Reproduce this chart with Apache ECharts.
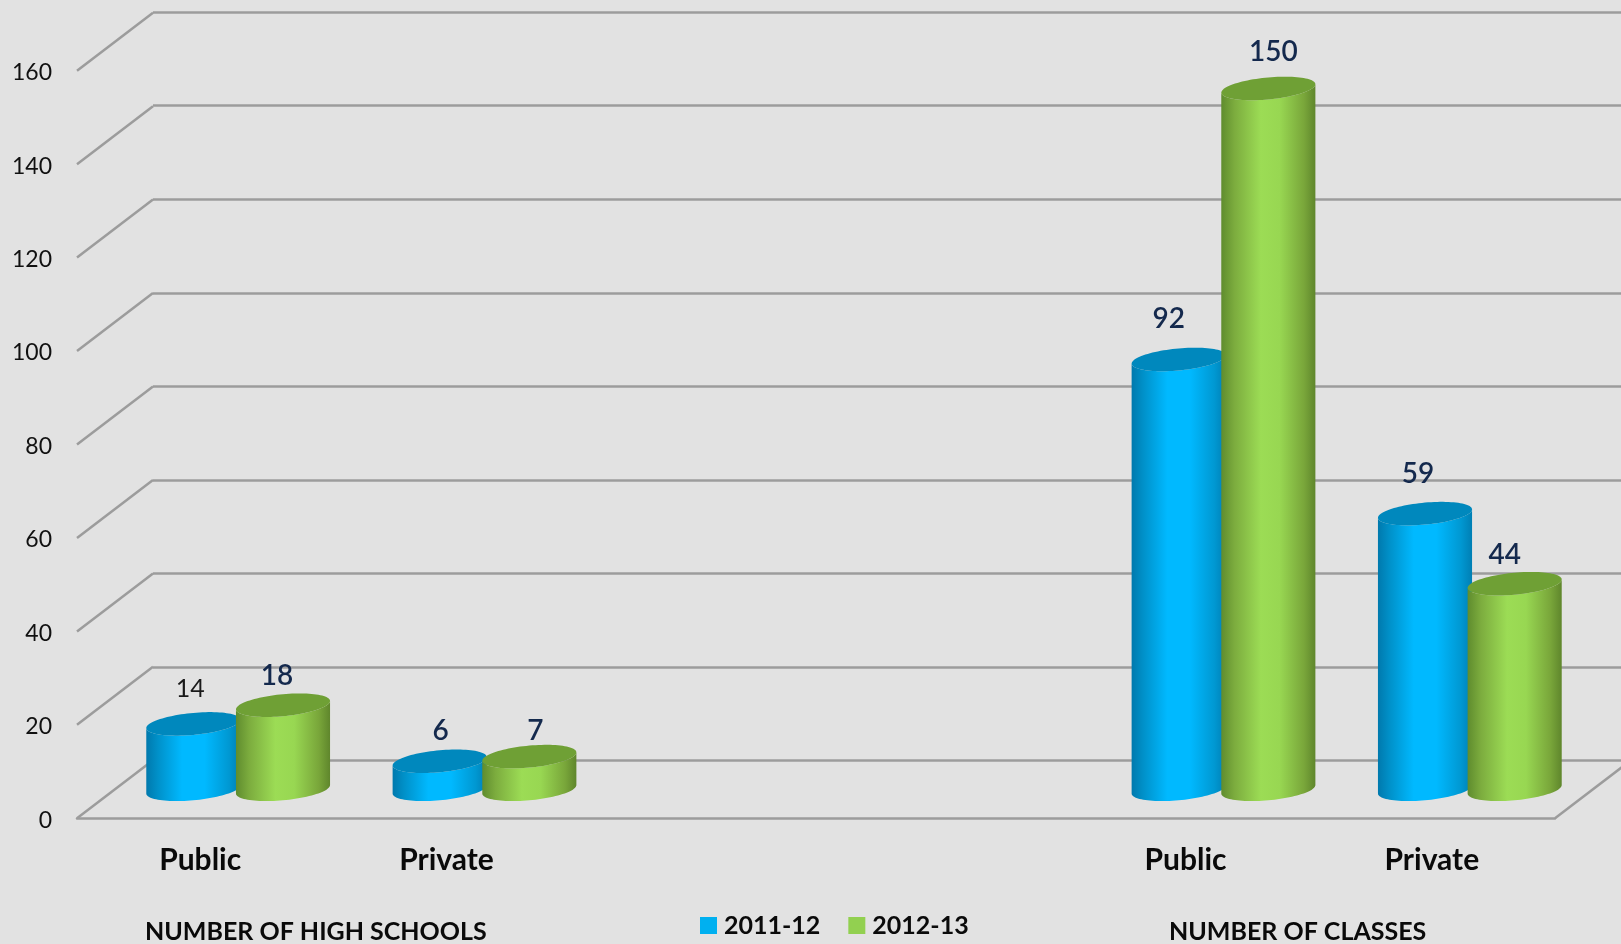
<!DOCTYPE html>
<html>
<head>
<meta charset="utf-8">
<style>html,body{margin:0;padding:0;background:#e2e2e2}#chart{width:1621px;height:944px}</style>
<script src="https://cdn.jsdelivr.net/npm/echarts@6/dist/echarts.min.js"></script>
</head>
<body>
<div id="chart"></div>
<script>
// School counts, two academic years, grouped under two headings
const categories = ['Public', 'Private', '', '', 'Public', 'Private'];
const values2011 = [14, 6, null, null, 92, 59];
const values2012 = [18, 7, null, null, 150, 44];
const valueTicks = [0, 20, 40, 60, 80, 100, 120, 140, 160];
const groupHeadings = ['NUMBER OF HIGH SCHOOLS', 'NUMBER OF CLASSES'];

// Label placement relative to the cylinder's top centre
const nudge2011 = [[-3, -35], [1, -30], null, null, [-10, -40], [-7, -40]];
const nudge2012 = [[-6, -29], [6, -26], null, null, [5, -36], [-10, -29]];

// Floor depth of the pseudo-3D box, in pixels
const DEPTH_X = 76, DEPTH_Y = -58;
const FONT = 'Lato';
const GRID_COLOR = '#9c9c9c';
const GRID_WIDTH = 2.5;

const palettes = {
  blue: { stops: [[0, '#0079ad'], [0.12, '#0090c8'], [0.38, '#00b9ff'], [0.62, '#00b9ff'], [0.88, '#0098d2'], [1, '#007fb4']], cap: '#0088bd' },
  green: { stops: [[0, '#5f8c2e'], [0.14, '#7cac3e'], [0.42, '#9cdc55'], [0.62, '#98d752'], [0.88, '#79a63a'], [1, '#5f862c']], cap: '#6fa035' }
};

function cylinderRenderer(palette, nudges, side) {
  return function (params, api) {
    const idx = api.value(0);
    const val = api.value(1);
    const band = api.size([1, 0])[0];
    const base = api.coord([idx, 0]);
    const top = api.coord([idx, val]);
    const a = band * 0.191;
    const b = 11, s = 4.2;
    const cx = base[0] + DEPTH_X / 2 + side * band * 0.182;
    const yBase = base[1] + DEPTH_Y / 2;
    const yTop = top[1] + DEPTH_Y / 2;
    const ring = (cy, from, to, n) => {
      const pts = [];
      for (let i = 0; i <= n; i++) {
        const t = from + (to - from) * i / n;
        pts.push([cx + a * Math.cos(t), cy + b * Math.sin(t) - s * Math.cos(t)]);
      }
      return pts;
    };
    // Side wall: down the right edge, along the near half of the base, up the left edge
    const body = [].concat(
      ring(yBase, 0, Math.PI, 48),
      ring(yTop, Math.PI, 0, 48)
    );
    const cap = ring(yTop, 0, Math.PI * 2, 96);
    const nudge = nudges[idx];
    const isSmall = val === 14;
    return {
      type: 'group',
      children: [
        {
          type: 'polygon',
          shape: { points: body },
          style: {
            fill: new echarts.graphic.LinearGradient(0, 0, 1, 0,
              palette.stops.map(p => ({ offset: p[0], color: p[1] })))
          }
        },
        { type: 'polygon', shape: { points: cap }, style: { fill: palette.cap } },
        {
          type: 'text',
          x: cx + nudge[0],
          y: yTop + nudge[1],
          style: {
            text: String(val),
            fontFamily: FONT,
            fontSize: isSmall ? 25 : 28,
            fontWeight: isSmall ? 400 : 600,
            fill: isSmall ? '#1a1a1a' : '#14294d',
            align: 'center',
            verticalAlign: 'middle'
          }
        }
      ]
    };
  };
}

function dataRows(values) {
  return values.map((v, i) => [i, v]).filter(r => r[1] !== null);
}

const chart = echarts.init(document.getElementById('chart'), null, { renderer: 'canvas' });

chart.setOption({
  animation: false,
  backgroundColor: '#e2e2e2',
  grid: [
    { left: 77, width: 1478, top: 70.7, height: 747.6 },
    { left: 153, right: 0, top: 12, height: 748.7 }
  ],
  xAxis: [
    {
      type: 'category',
      gridIndex: 0,
      data: categories,
      axisTick: { show: false },
      axisLine: { show: true, lineStyle: { color: GRID_COLOR, width: GRID_WIDTH } },
      axisLabel: { color: '#0a0a0a', fontFamily: FONT, fontWeight: 700, fontSize: 30, margin: 27, interval: 0 }
    },
    { type: 'value', gridIndex: 1, min: 0, max: 1, show: false }
  ],
  yAxis: [
    {
      type: 'value',
      gridIndex: 0,
      min: 0,
      max: 160,
      interval: 20,
      axisTick: { show: false },
      axisLine: { show: false },
      splitLine: { show: false },
      axisLabel: {
        margin: 25,
        formatter: '{v|{value}}',
        rich: { v: { color: '#111', fontFamily: FONT, fontSize: 23, padding: [4, 0, 0, 0] } }
      }
    },
    {
      type: 'value',
      gridIndex: 1,
      min: 0,
      max: 160,
      interval: 20,
      axisTick: { show: false },
      axisLine: { show: false },
      axisLabel: { show: false },
      splitLine: { show: true, lineStyle: { color: GRID_COLOR, width: GRID_WIDTH } }
    }
  ],
  legend: {
    data: ['2011-12', '2012-13'],
    left: 700,
    top: 913,
    padding: 0,
    itemWidth: 17,
    itemHeight: 17,
    itemGap: 28,
    icon: 'rect',
    textStyle: { color: '#0a0a0a', fontFamily: FONT, fontWeight: 700, fontSize: 25, padding: [0, 0, 0, 2] }
  },
  graphic: [
    {
      type: 'text', left: 145, top: 919,
      style: { text: groupHeadings[0], fontFamily: FONT, fontWeight: 700, fontSize: 25, fill: '#0a0a0a' }
    },
    {
      type: 'text', left: 1169, top: 919,
      style: { text: groupHeadings[1], fontFamily: FONT, fontWeight: 700, fontSize: 25, fill: '#0a0a0a' }
    }
  ],
  series: [
    {
      // Slanted floor and side edges joining the front plane to the back wall
      type: 'custom',
      name: 'edges',
      xAxisIndex: 0,
      yAxisIndex: 0,
      silent: true,
      clip: false,
      z: 1,
      data: valueTicks.map(v => [0, v]),
      renderItem(params, api) {
        const p = api.coord([0, api.value(1)]);
        const x = params.coordSys.x;
        const lineStyle = { stroke: GRID_COLOR, lineWidth: GRID_WIDTH, fill: null };
        const children = [{
          type: 'line',
          shape: { x1: x, y1: p[1], x2: x + DEPTH_X, y2: p[1] + DEPTH_Y },
          style: lineStyle
        }];
        if (api.value(1) === 0) {
          const xr = x + params.coordSys.width;
          children.push({
            type: 'line',
            shape: { x1: xr, y1: p[1], x2: xr + DEPTH_X, y2: p[1] + DEPTH_Y },
            style: lineStyle
          });
        }
        return { type: 'group', children };
      }
    },
    {
      type: 'custom',
      name: '2011-12',
      xAxisIndex: 0,
      yAxisIndex: 0,
      clip: false,
      z: 3,
      itemStyle: { color: '#00b0f0' },
      data: dataRows(values2011),
      renderItem: cylinderRenderer(palettes.blue, nudge2011, -1)
    },
    {
      type: 'custom',
      name: '2012-13',
      xAxisIndex: 0,
      yAxisIndex: 0,
      clip: false,
      z: 4,
      itemStyle: { color: '#92d050' },
      data: dataRows(values2012),
      renderItem: cylinderRenderer(palettes.green, nudge2012, 1)
    }
  ]
});
</script>
</body>
</html>
